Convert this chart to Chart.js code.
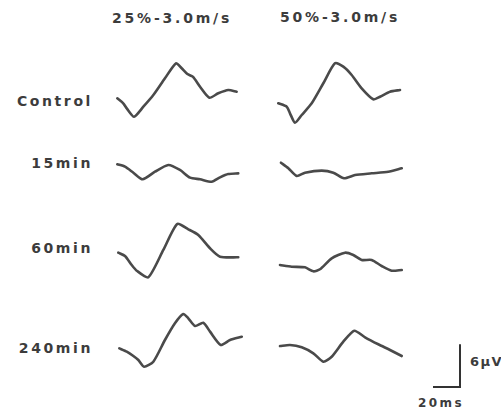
<!DOCTYPE html>
<html>
<head>
<meta charset="utf-8">
<script src="https://cdn.jsdelivr.net/npm/chart.js@4"></script>
<style>
  body { margin: 0; width: 501px; height: 411px; background: #fff; position: relative; overflow: hidden;
         font-family: "DejaVu Sans", sans-serif; font-weight: bold; color: #3c3c3c; }
  .txt { position: absolute; font-size: 14px; line-height: 16px; white-space: nowrap; }
  .title { letter-spacing: 2.8px; }
  .row { right: 408px; text-align: right; letter-spacing: 2.6px; }
  canvas.panel { position: absolute; }
</style>
</head>
<body>
<div class="txt title" style="left:112px; top:10px;">25%-3.0m/s</div>
<div class="txt title" style="left:280px; top:9px;">50%-3.0m/s</div>
<div class="txt row" style="top:93px;">Control</div>
<div class="txt row" style="top:155px;">15min</div>
<div class="txt row" style="top:240px;">60min</div>
<div class="txt row" style="top:340px;">240min</div>
<div class="txt" style="left:470px; top:354px; font-size:13px; letter-spacing:1.5px;">6µV</div>
<div class="txt" style="left:418px; top:395px; font-size:12px; letter-spacing:2.4px;">20ms</div>

<script>
// time (ms) and amplitude (µV) of each trace
const ctrl25T = [1.7, 6.1, 8.7, 14.1, 21.0, 28.4, 37.0, 45.2, 49.4, 53.6, 57.6, 63.0, 69.9, 76.5, 83.9, 90.1];
const ctrl25V = [-0.76, -1.47, -2.19, -3.39, -1.96, -0.29, 2.1, 4.24, 3.53, 2.71, 2.33, 0.9, -0.67, -0.04, 0.43, 0.19];
const ctrl50T = [2.4, 8.7, 11.1, 14.8, 19.8, 27.2, 35.8, 44.4, 50.6, 56.8, 64.2, 72.8, 77.8, 85.2, 92.6];
const ctrl50V = [-1.47, -1.96, -2.9, -4.24, -3.14, -1.47, 1.39, 4.24, 3.76, 2.57, 0.67, -0.9, -0.53, 0.19, 0.43];

const m15_25T = [1.7, 7.4, 13.6, 20.5, 29.6, 39.5, 48.1, 55.6, 63.0, 71.6, 77.8, 83.9, 91.3];
const m15_25V = [1.1, 0.76, -0.1, -1.04, 0.04, 1.0, 0.29, -0.81, -1.04, -1.39, -0.76, -0.29, -0.19];
const m15_50T = [4.4, 9.9, 16.1, 22.2, 34.6, 43.2, 51.1, 59.3, 71.6, 83.9, 93.9];
const m15_50V = [1.33, 0.53, -0.57, -0.1, 0.19, -0.1, -0.9, -0.43, -0.19, 0.04, 0.53];

const m60_25T = [2.4, 7.4, 12.4, 16.1, 24.7, 35.8, 46.1, 54.3, 61.7, 70.4, 77.8, 91.3];
const m60_25V = [-0.1, -0.57, -1.86, -2.67, -3.61, 0.29, 4.0, 3.24, 2.43, 0.53, -0.67, -0.76];
const m60_50T = [3.7, 12.4, 22.2, 28.4, 33.3, 42.0, 51.9, 58.0, 64.2, 71.6, 79.0, 86.4, 93.9];
const m60_50V = [-1.86, -2.1, -2.19, -2.76, -2.47, -0.9, -0.1, -0.43, -1.14, -1.14, -2.0, -2.67, -2.57];

const m240_25T = [3.2, 8.7, 13.6, 17.3, 21.5, 28.4, 37.0, 44.4, 50.6, 54.3, 59.3, 65.4, 70.4, 78.3, 85.2, 93.9];
const m240_25V = [-1.19, -1.67, -2.29, -2.86, -3.81, -3.1, 0, 2.39, 3.71, 3.1, 2.0, 2.47, 1.19, -0.71, 0, 0.47];
const m240_50T = [3.7, 11.1, 19.8, 28.4, 35.8, 42.0, 50.6, 58.7, 66.7, 76.5, 85.2, 93.9];
const m240_50V = [-0.86, -0.71, -1.04, -1.9, -3.1, -2.39, -0.24, 1.33, 0.39, -0.61, -1.43, -2.29];

// calibration bar: 20 ms by 6 µV
const barT = [0, 20, 20];
const barV = [0, 0, 6];

const traceColor = '#4a4a4a';

function makePanel(left, top, t, v, opts) {
    opts = opts || {};
    const c = document.createElement('canvas');
    c.className = 'panel';
    const w = opts.w || 135, h = opts.h || 70;
    c.width = w; c.height = h;
    c.style.left = left + 'px';
    c.style.top = top + 'px';
    document.body.appendChild(c);
    new Chart(c, {
        type: 'line',
        data: {
            datasets: [{
                data: t.map((x, i) => ({ x: x, y: v[i] })),
                borderColor: opts.color || traceColor,
                borderWidth: opts.lw || 2.6,
                pointRadius: 0,
                tension: opts.straight ? 0 : 0.22,
                borderJoinStyle: opts.straight ? 'miter' : 'round',
                borderCapStyle: 'round',
                clip: false
            }]
        },
        options: {
            responsive: false,
            animation: false,
            layout: { padding: 0 },
            plugins: { legend: { display: false }, tooltip: { enabled: false } },
            scales: {
                x: { type: 'linear', display: false, min: 0, max: opts.xmax || 100 },
                y: { type: 'linear', display: false, min: opts.ymin !== undefined ? opts.ymin : -5, max: opts.ymax !== undefined ? opts.ymax : 5 }
            }
        }
    });
}

// rows: panel canvas top = row centre - 35
makePanel(115, 58, ctrl25T, ctrl25V);
makePanel(275, 58, ctrl50T, ctrl50V);
makePanel(115, 137, m15_25T, m15_25V);
makePanel(275, 137, m15_50T, m15_50V);
makePanel(115, 217, m60_25T, m60_25V);
makePanel(275, 217, m60_50T, m60_50V);
makePanel(115, 305, m240_25T, m240_25V);
makePanel(275, 305, m240_50T, m240_50V);

// scale bar, same px per unit as the traces
makePanel(433, 324, barT, barV, { w: 54, h: 70, xmax: 40, ymin: -1, ymax: 9, straight: true, lw: 2, color: '#333' });
</script>
</body>
</html>
